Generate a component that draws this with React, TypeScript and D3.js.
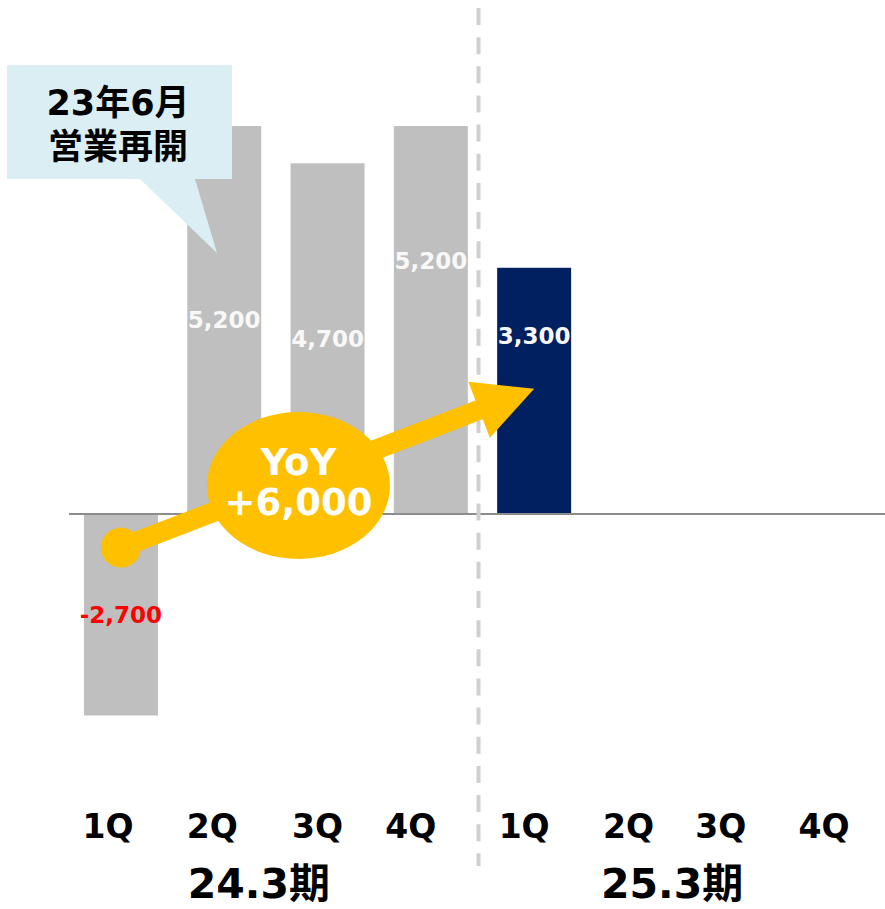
import React from "react";
import * as d3 from "d3";

const quarterIds = ["24-1Q", "24-2Q", "24-3Q", "24-4Q", "25-1Q", "25-2Q", "25-3Q", "25-4Q"];
const quarterLabels = ["1Q", "2Q", "3Q", "4Q", "1Q", "2Q", "3Q", "4Q"];
const periodLabels = ["24.3期", "25.3期"];
const values: (number | null)[] = [-2700, 5200, 4700, 5200, 3300, null, null, null];
const valueLabels = ["-2,700", "5,200", "4,700", "5,200", "3,300"];
const calloutLines = ["23年6月", "営業再開"];
const yoyLines = ["YoY", "+6,000"];
const arrowFromValue = -450;
const arrowToValue = 1680;

const W = 885;
const H = 909;
const FONT = "'DejaVu Sans', 'Noto Sans CJK JP', sans-serif";

// layout tweaks (label nudges, not data)
const LABEL_DY = [0, 0, 0, -59, -55];
const QLABEL_DX = [-13, -12, -10, -20, -10, -9, -20, -20];

export default function App() {
  const x = d3
    .scaleBand<string>()
    .domain(quarterIds)
    .range([69.3, 895.7])
    .paddingInner(0.284)
    .paddingOuter(0.142);
  const y = d3.scaleLinear().domain([-2700, 5200]).range([715.5, 126]);
  const bw = x.bandwidth();
  const cx = (i: number) => (x(quarterIds[i]) as number) + bw / 2;
  const y0 = y(0);

  // arrow geometry
  const sx = cx(0), sy = y(arrowFromValue);
  const tx = cx(4), ty = y(arrowToValue);
  const len = Math.hypot(tx - sx, ty - sy);
  const ux = (tx - sx) / len, uy = (ty - sy) / len;
  const nx = -uy, ny = ux;
  const headL = 59, headW = 30;
  const bx = tx - ux * headL, by = ty - uy * headL;
  const head = `M${tx},${ty} L${bx + nx * headW},${by + ny * headW} L${bx - nx * headW},${by - ny * headW} Z`;

  const sepX = ((x(quarterIds[3]) as number) + bw + (x(quarterIds[4]) as number)) / 2 - 4;

  const groupCenter = (a: number, b: number) => (cx(a) + cx(b)) / 2 - 17;

  return (
    <svg
      width={W}
      height={H}
      style={{ position: "absolute", left: 0, top: 0, background: "#fff" }}
      fontFamily={FONT}
    >
      {/* bars */}
      {values.map((v, i) =>
        v === null ? null : (
          <rect
            key={quarterIds[i]}
            x={x(quarterIds[i])}
            width={bw}
            y={Math.min(y(v), y0)}
            height={Math.abs(y(v) - y0)}
            fill={i === 4 ? "#00205F" : "#BFBFBF"}
          />
        )
      )}
      {/* zero line */}
      <line x1={69} x2={W} y1={y0} y2={y0} stroke="#8C8C8C" strokeWidth={2} />
      {/* separator */}
      <line
        x1={sepX}
        x2={sepX}
        y1={8}
        y2={866}
        stroke="#D0D0D0"
        strokeWidth={4}
        strokeDasharray="17 12.15"
      />
      {/* value labels */}
      {values.map((v, i) =>
        v === null ? null : (
          <text
            key={"vl" + i}
            x={cx(i)}
            y={(y(v) + y0) / 2 + (LABEL_DY[i] || 0)}
            textAnchor="middle"
            dominantBaseline="central"
            fontSize={23}
            fontWeight="bold"
            fill={v < 0 ? "#FF0000" : "#F8F8F8"}
          >
            {valueLabels[i]}
          </text>
        )
      )}
      {/* arrow */}
      <line x1={sx} y1={sy} x2={bx + ux * 2} y2={by + uy * 2} stroke="#FFC000" strokeWidth={20} />
      <circle cx={sx} cy={sy} r={20} fill="#FFC000" />
      <path d={head} fill="#FFC000" />
      {/* YoY ellipse */}
      <ellipse cx={298.5} cy={485.5} rx={91.5} ry={73.5} fill="#FFC000" />
      {yoyLines.map((t, i) => (
        <text
          key={"yoy" + i}
          x={298.5}
          y={i === 0 ? 475 : 515}
          textAnchor="middle"
          fontSize={37}
          fontWeight="bold"
          fill="#FFFFFF"
        >
          {t}
        </text>
      ))}
      {/* callout */}
      <path d="M7,65 H232 V179 H195 L217,253 L140,179 H7 Z" fill="#DAEEF3" />
      {calloutLines.map((t, i) => (
        <text
          key={"co" + i}
          x={118}
          y={i === 0 ? 115 : 159}
          textAnchor="middle"
          fontSize={35}
          fontWeight="bold"
          fill="#000"
        >
          {t}
        </text>
      ))}
      {/* quarter labels */}
      {quarterLabels.map((t, i) => (
        <text
          key={"q" + i}
          x={cx(i) + QLABEL_DX[i]}
          y={838}
          textAnchor="middle"
          fontSize={33}
          fontWeight="bold"
          fill="#000"
        >
          {t}
        </text>
      ))}
      {/* period labels */}
      {periodLabels.map((t, i) => (
        <text
          key={"p" + i}
          x={i === 0 ? groupCenter(0, 3) : groupCenter(4, 7)}
          y={898}
          textAnchor="middle"
          fontSize={41}
          fontWeight="bold"
          fill="#000"
        >
          {t}
        </text>
      ))}
    </svg>
  );
}
